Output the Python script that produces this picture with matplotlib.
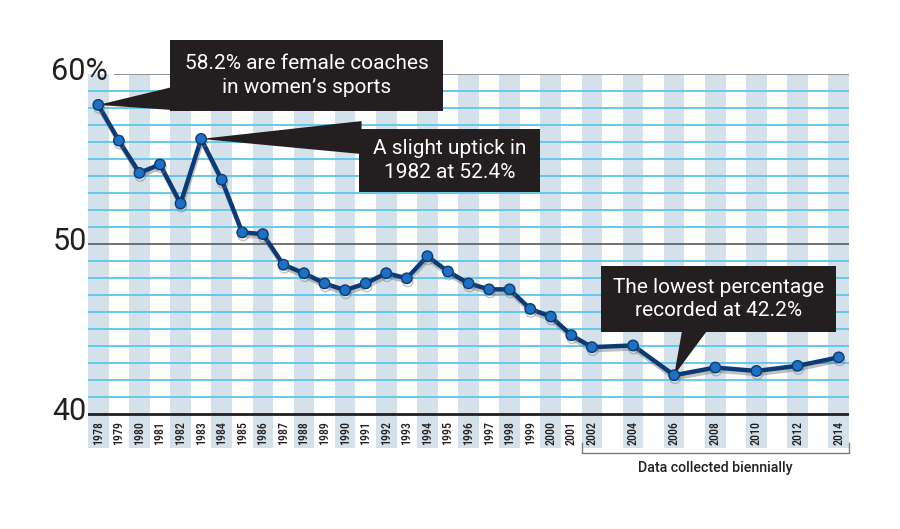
import matplotlib
matplotlib.use("Agg")
import matplotlib.pyplot as plt
import matplotlib.patheffects as pe
from matplotlib import font_manager
from matplotlib.patches import Rectangle, Polygon

# ---------------- data ----------------
years = list(range(1978, 2003)) + [2004, 2006, 2008, 2010, 2012, 2014]
pct = [58.2, 56.1, 54.2, 54.7, 52.4, 56.2, 53.8, 50.7, 50.6, 48.8,
       48.3, 47.7, 47.3, 47.7, 48.3, 48.0, 49.3, 48.4, 47.7, 47.35,
       47.35, 46.2, 45.75, 44.65, 43.95,
       44.05, 42.3, 42.75, 42.55, 42.85, 43.35]
tick_labels = [str(y) for y in years]
ytick_vals = [40, 50, 60]
ytick_labels = ["40", "50", "60%"]
note1 = "58.2% are female coaches\nin women\u2019s sports"
note2 = "A slight uptick in\n1982 at 52.4%"
note3 = "The lowest percentage\nrecorded at 42.2%"
bracket_label = "Data collected biennially"

# ---------------- fonts ----------------
names = {f.name for f in font_manager.fontManager.ttflist}
def pick(*cands):
    for c in cands:
        if c in names:
            return c
    return "DejaVu Sans"
MAIN = pick("Roboto", "Open Sans", "Lato")
COND = pick("Roboto Condensed", "Liberation Sans Narrow", MAIN)
tick_size = 8.6 if COND != MAIN else 7.9

# ---------------- colors ----------------
BAND = "#d4e1ea"
GRID = "#5cc6ec"
NAVY = "#0c3a74"
MFILL = "#1f70c1"
DARK = "#231f20"

fig = plt.figure(figsize=(9, 5.29), dpi=100)
fig.patch.set_facecolor("white")
H = 529.0
ax = fig.add_axes([88 / 900, 1 - 448.3 / H, 761 / 900, (448.3 - 74.3) / H])
ax.set_xlim(1977.5, 2014.5)
ax.set_ylim(38, 60)
ax.axis("off")

# alternating bands on even years
for y in range(1978, 2015, 2):
    ax.axvspan(y - 0.5, y + 0.5, color=BAND, lw=0, zorder=0)

# horizontal gridlines every 1%
for v in range(41, 60):
    if v == 50:
        continue
    ax.axhline(v, color=GRID, lw=1.3, zorder=1)
ax.axhline(50, color="#5a5a5a", lw=1.2, zorder=1)
ax.axhline(60, xmin=27 / 761, xmax=1, color="#8a8a8a", lw=1.3, zorder=1)
ax.axhline(40, color=DARK, lw=2.0, zorder=3)

# y labels
for v, lab in zip(ytick_vals, ytick_labels):
    xpos = 1978.47 if lab.endswith("%") else 1977.45
    ax.text(xpos, v + 0.15, lab, ha="right", va="center", fontsize=22,
            color=DARK, family=MAIN, clip_on=False)

# x tick labels (rotated, inside band area)
for y, lab in zip(years, tick_labels):
    ax.text(y, 38.9, lab, rotation=90, ha="center", va="center",
            fontsize=tick_size, color=DARK, family=COND, fontweight="medium")

# main line
ax.plot(years, pct, color=NAVY, lw=3.2, marker="o", ms=7.5, mfc=MFILL,
        mec=NAVY, mew=1.0, zorder=5, solid_joinstyle="round",
        path_effects=[pe.SimpleLineShadow(offset=(0.6, -2.2), shadow_color="#777777", alpha=0.45),
                      pe.Normal()])

# annotation boxes
def box(x0, x1, y0, y1, tri, text, tsize=15):
    ax.add_patch(Rectangle((x0, y0), x1 - x0, y1 - y0, facecolor=DARK,
                           edgecolor="none", zorder=6, clip_on=False))
    ax.add_patch(Polygon(tri, closed=True, facecolor=DARK, edgecolor="none",
                         zorder=4.5, clip_on=False))
    ax.text((x0 + x1) / 2, (y0 + y1) / 2, text, ha="center", va="center",
            color="white", fontsize=tsize, family=MAIN, linespacing=1.3, zorder=7)

box(1981.49, 1994.76, 57.84, 62.02,
    [(years[0], pct[0]), (1981.6, 59.25), (1981.6, 57.9)], note1)
box(1990.69, 1999.47, 53.09, 56.78,
    [(years[5], pct[5]), (1990.8, 57.25), (1990.8, 55.31)], note2)
box(2002.44, 2013.85, 44.82, 48.74,
    [(years[26], pct[26]), (2006.38, 44.9), (2007.59, 44.9)], note3)

# bracket for biennial data
ax.plot([2001.5, 2001.5, 2014.5, 2014.5], [38.3, 37.72, 37.72, 38.3],
        color="#7a7a7a", lw=1.0, clip_on=False, zorder=3)
ax.text(2008.0, 36.85, bracket_label, ha="center", va="center",
        fontsize=10.2, color=DARK, family=MAIN, fontweight="medium", clip_on=False)

fig.savefig("out.png", dpi=100, facecolor="white")
